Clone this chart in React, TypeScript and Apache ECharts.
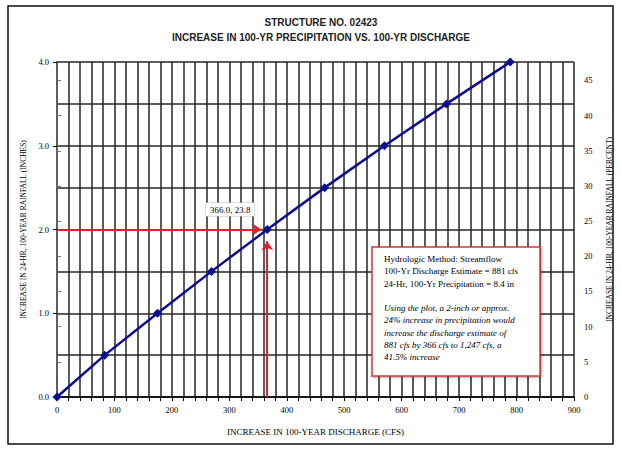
import React, { useEffect, useRef } from "react";
import * as echarts from "echarts";

const titleLines = ["STRUCTURE NO. 02423", "INCREASE IN 100-YR PRECIPITATION VS. 100-YR DISCHARGE"];
const xAxisName = "INCREASE IN 100-YEAR DISCHARGE (CFS)";
const leftAxisName = "INCREASE IN 24-HR, 100-YEAR RAINFALL (INCHES)";
const rightAxisName = "INCREASE IN 24-HR, 100-YEAR RAINFALL (PERCENT)";

// Increase in discharge (cfs) vs increase in precipitation (inches)
const dischargeIncrease = [0, 83, 175, 269, 366, 466, 570, 678, 789];
const precipIncrease = [0, 0.5, 1.0, 1.5, 2.0, 2.5, 3.0, 3.5, 4.0];
const basePrecipIn = 8.4;
const highlightPoint = [366, 2.0];

const noteLines = [
  "Hydrologic Method: Streamflow",
  "100-Yr Discharge Estimate = 881 cfs",
  "24-Hr, 100-Yr Precipitation = 8.4 in",
];
const noteItalic = [
  "Using the plot, a 2-inch or approx.",
  "24% increase in precipitation would",
  "increase the discharge estimate of",
  "881 cfs by 366 cfs to 1,247 cfs, a",
  "41.5% increase",
];

const SERIF = "'Liberation Serif', 'DejaVu Serif', serif";
const SANS = "'Liberation Sans', Arial, sans-serif";

export default function App() {
  const ref = useRef<HTMLDivElement>(null);
  useEffect(() => {
    if (!ref.current) return;
    const chart = echarts.init(ref.current, undefined, { renderer: "svg" });
    const grid = "#262626";
    const pctMax = (4 / basePrecipIn) * 100;
    const hx = highlightPoint[0];
    const hy = highlightPoint[1];
    const hPct = ((hy / basePrecipIn) * 100).toFixed(1);

    chart.setOption({
      animation: false,
      backgroundColor: "#ffffff",
      title: {
        text: titleLines.join("\n"),
        left: 316,
        top: 10,
        textAlign: "center",
        textStyle: { fontFamily: SANS, fontSize: 10, fontWeight: "bold", color: "#222", lineHeight: 15 },
      },
      grid: { left: 57, right: 46, top: 62, bottom: 56 },
      xAxis: {
        type: "value",
        min: 0,
        max: 900,
        interval: 100,
        name: xAxisName,
        nameLocation: "middle",
        nameGap: 30,
        nameTextStyle: { fontFamily: SERIF, fontSize: 9, color: "#000" },
        axisLine: { show: true, onZero: false, lineStyle: { color: "#000", width: 1.5 } },
        axisTick: { show: true, length: 4, lineStyle: { color: "#000" } },
        minorTick: { show: true, splitNumber: 5, length: 4, lineStyle: { color: "#000" } },
        axisLabel: { fontFamily: SERIF, fontSize: 8.5, color: "#000", margin: 8 },
        splitLine: { show: true, lineStyle: { color: grid, width: 1.5 } },
        minorSplitLine: { show: true, lineStyle: { color: grid, width: 1.5 } },
      },
      yAxis: [
        {
          type: "value",
          min: 0,
          max: 4,
          interval: 1,
          name: leftAxisName,
          nameLocation: "middle",
          nameRotate: 90,
          nameGap: 30,
          nameTextStyle: { fontFamily: SERIF, fontSize: 7.5, color: "#000" },
          axisLine: { show: true, onZero: false, lineStyle: { color: "#000", width: 1.5 } },
          axisTick: { show: true, length: 4, lineStyle: { color: "#000" } },
          minorTick: { show: false, splitNumber: 2 },
          axisLabel: {
            fontFamily: SERIF,
            fontSize: 8.5,
            color: "#000",
            margin: 8,
            formatter: (v: number) => v.toFixed(1),
          },
          splitLine: { show: true, lineStyle: { color: grid, width: 1.5 } },
          minorSplitLine: { show: true, lineStyle: { color: grid, width: 1.5 } },
        },
        {
          type: "value",
          min: 0,
          max: pctMax,
          interval: 5,
          position: "right",
          name: rightAxisName,
          nameLocation: "middle",
          nameRotate: 90,
          nameGap: 31,
          nameTextStyle: { fontFamily: SERIF, fontSize: 7.5, color: "#000" },
          axisLine: { show: true, lineStyle: { color: "#777", width: 1.5 } },
          axisTick: { show: true, length: 4, lineStyle: { color: "#777" } },
          axisLabel: {
            fontFamily: SERIF,
            fontSize: 8.5,
            color: "#000",
            margin: 10,
            showMaxLabel: false,
            formatter: (v: number) => (Math.abs(v % 5) < 1e-6 ? String(v) : ""),
          },
          splitLine: { show: false },
        },
      ],
      series: [
        {
          type: "line",
          yAxisIndex: 0,
          data: dischargeIncrease.map((x, i) => [x, precipIncrease[i]]),
          symbol: "diamond",
          symbolSize: 9,
          lineStyle: { color: "#0c0c8f", width: 2.5 },
          itemStyle: { color: "#0c0c8f" },
          z: 5,
          markLine: {
            silent: true,
            symbol: ["none", "arrow"],
            symbolSize: 9,
            label: { show: false },
            lineStyle: { color: "#e02228", width: 2, type: "solid" },
            data: [
              [{ coord: [0, hy] }, { coord: [hx - 10, hy] }],
              [{ coord: [hx, 0] }, { coord: [hx, hy - 0.14] }],
            ],
          },
          markPoint: {
            silent: true,
            symbol: "circle",
            symbolSize: 0,
            data: [{ coord: [hx, hy] }],
            label: {
              show: true,
              formatter: `${hx.toFixed(1)}, ${hPct}`,
              position: "inside",
              offset: [-37, -20],
              fontFamily: SERIF,
              fontSize: 9,
              color: "#000",
              backgroundColor: "#ffffff",
              borderColor: "#bbb",
              borderWidth: 0.5,
              padding: [2, 4],
            },
          },
        },
      ],
      graphic: [
        {
          type: "rect",
          shape: { x: 8, y: 6, width: 605, height: 438 },
          style: { fill: "none", stroke: "#111", lineWidth: 1.5 },
          silent: true,
          z: 100,
        },
        {
          type: "rect",
          shape: { x: 372, y: 247, width: 168, height: 129 },
          z: 100,
          style: {
            fill: "#ffffff",
            stroke: "#d23a3a",
            lineWidth: 1.5,
            shadowBlur: 2,
            shadowColor: "rgba(0,0,0,0.35)",
            shadowOffsetX: 1,
            shadowOffsetY: 1,
          },
        },
        {
          type: "text",
          x: 384,
          y: 253,
          z: 101,
          style: {
            text: noteLines.join("\n"),
            font: `9px ${SERIF}`,
            fill: "#000",
            lineHeight: 12.3,
          },
        },
        {
          type: "text",
          x: 384,
          y: 302,
          z: 101,
          style: {
            text: noteItalic.join("\n"),
            font: `italic 9px ${SERIF}`,
            fill: "#000",
            lineHeight: 12.3,
          },
        },
      ],
    });
    return () => chart.dispose();
  }, []);
  return (
    <div
      ref={ref}
      style={{ position: "fixed", left: 0, top: 0, width: 621, height: 453, background: "#fff" }}
    />
  );
}
